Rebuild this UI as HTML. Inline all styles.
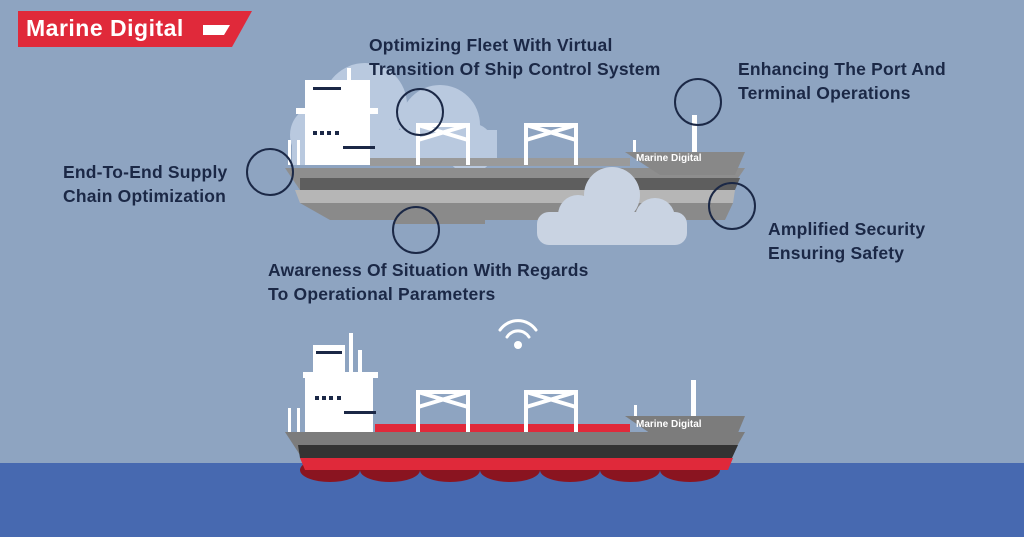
<!DOCTYPE html>
<html><head><meta charset="utf-8"><style>
body{margin:0;width:1024px;height:537px;overflow:hidden;background:#8ea4c1;font-family:"Liberation Sans",sans-serif}
.t{position:absolute;color:#1b2846;font-weight:bold;font-size:17.5px;line-height:24px;letter-spacing:0.2px}
</style></head><body>
<svg width="1024" height="537" style="position:absolute;left:0;top:0">
<rect x="0" y="463" width="1024" height="74" fill="#4769b0"/>
<polygon points="18,11 252,11 232,47 18,47" fill="#e0293a"/>
<polygon points="203,25 230,25 224,35 203,35" fill="#fff"/>
<g fill="#b9c9df">
<circle cx="365" cy="105" r="42"/><circle cx="320" cy="135" r="30"/><circle cx="440" cy="125" r="40"/><circle cx="470" cy="148" r="25"/>
<rect x="292" y="130" width="205" height="35"/>
</g>
<rect x="305" y="80" width="65" height="85" fill="#fff"/>
<rect x="296" y="108" width="82" height="6" fill="#fff"/>
<rect x="347" y="68" width="4" height="45" fill="#fff"/><rect x="357" y="85" width="4" height="30" fill="#fff"/>
<rect x="288" y="140" width="3" height="25" fill="#fff"/><rect x="297" y="140" width="3" height="25" fill="#fff"/>
<rect x="313" y="87" width="28" height="3" fill="#1b2846"/>
<g fill="#1b2846"><rect x="313" y="131" width="4" height="4"/><rect x="320" y="131" width="4" height="4"/><rect x="327" y="131" width="4" height="4"/><rect x="335" y="131" width="4" height="4"/><rect x="343" y="146" width="32" height="3"/></g>
<rect x="370" y="158" width="260" height="8" fill="#9a9a9a"/>
<g stroke="#fff" stroke-width="4" fill="none">
<path d="M418 165V125H468V165M418 125L468 140M468 125L418 140"/>
<path d="M526 165V125H576V165M526 125L576 140M576 125L526 140"/>
</g>
<rect x="633" y="140" width="3" height="15" fill="#fff"/><rect x="692" y="115" width="5" height="40" fill="#fff"/>
<polygon points="285,168 745,168 730,190 300,190" fill="#8e8e8e"/>
<polygon points="625,152 745,152 735,175 660,175" fill="#888"/>
<polygon points="300,178 740,178 735,190 300,190" fill="#5e5e5e"/>
<polygon points="295,190 735,190 733,203 300,203" fill="#b6b6b6"/>
<polygon points="300,203 733,203 725,220 330,220" fill="#8a8a8a"/>
<rect x="395" y="218" width="90" height="6" fill="#8a8a8a"/>
<g fill="#c9d3e2"><circle cx="612" cy="195" r="28"/><circle cx="655" cy="218" r="20"/><circle cx="578" cy="215" r="20"/><rect x="537" y="212" width="150" height="33" rx="12"/></g>
<g fill="none" stroke="#1b2846" stroke-width="2">
<circle cx="420" cy="112" r="23"/><circle cx="698" cy="102" r="23"/><circle cx="270" cy="172" r="23"/><circle cx="732" cy="206" r="23"/><circle cx="416" cy="230" r="23"/>
</g>
<g fill="none" stroke="#fff" stroke-width="3" stroke-linecap="round">
<path d="M500 330A22 22 0 0 1 536 330"/><path d="M507 337A13 13 0 0 1 529 337"/></g>
<circle cx="518" cy="345" r="4" fill="#fff"/>
<rect x="313" y="345" width="32" height="87" fill="#fff"/>
<rect x="305" y="372" width="68" height="60" fill="#fff"/>
<rect x="303" y="372" width="75" height="6" fill="#fff"/>
<rect x="349" y="333" width="4" height="45" fill="#fff"/><rect x="358" y="350" width="4" height="25" fill="#fff"/>
<rect x="288" y="408" width="3" height="25" fill="#fff"/><rect x="297" y="408" width="3" height="25" fill="#fff"/>
<rect x="316" y="351" width="26" height="3" fill="#1b2846"/>
<g fill="#1b2846"><rect x="315" y="396" width="4" height="4"/><rect x="322" y="396" width="4" height="4"/><rect x="329" y="396" width="4" height="4"/><rect x="337" y="396" width="4" height="4"/><rect x="344" y="411" width="32" height="3"/></g>
<rect x="375" y="424" width="255" height="9" fill="#e0293a"/>
<g stroke="#fff" stroke-width="4" fill="none">
<path d="M418 432V392H468V432M418 392L468 407M468 392L418 407"/>
<path d="M526 432V392H576V432M526 392L576 407M576 392L526 407"/>
</g>
<rect x="634" y="405" width="3" height="15" fill="#fff"/><rect x="691" y="380" width="5" height="40" fill="#fff"/>
<g fill="#8a1420"><ellipse cx="330" cy="470" rx="30" ry="12"/><ellipse cx="390" cy="470" rx="30" ry="12"/><ellipse cx="450" cy="470" rx="30" ry="12"/><ellipse cx="510" cy="470" rx="30" ry="12"/><ellipse cx="570" cy="470" rx="30" ry="12"/><ellipse cx="630" cy="470" rx="30" ry="12"/><ellipse cx="690" cy="470" rx="30" ry="12"/></g>
<polygon points="625,416 745,416 735,440 660,440" fill="#7c7c7c"/>
<polygon points="285,432 745,432 732,455 300,455" fill="#7c7c7c"/>
<polygon points="298,445 738,445 732,458 300,458" fill="#333"/>
<polygon points="300,458 733,458 728,470 305,470" fill="#e0293a"/>
</svg>
<div style="position:absolute;left:26px;top:15px;color:#fff;font-weight:bold;font-size:23px;letter-spacing:0.5px">Marine Digital</div>
<div style="position:absolute;left:636px;top:153px;color:#fff;font-weight:bold;font-size:10px">Marine Digital</div>
<div style="position:absolute;left:636px;top:419px;color:#fff;font-weight:bold;font-size:10px">Marine Digital</div>
<div class="t" style="left:369px;top:33px">Optimizing Fleet With Virtual<br>Transition Of Ship Control System</div>
<div class="t" style="left:738px;top:57px">Enhancing The Port And<br>Terminal Operations</div>
<div class="t" style="left:63px;top:160px">End-To-End Supply<br>Chain Optimization</div>
<div class="t" style="left:768px;top:217px">Amplified Security<br>Ensuring Safety</div>
<div class="t" style="left:268px;top:258px">Awareness Of Situation With Regards<br>To Operational Parameters</div>
</body></html>
